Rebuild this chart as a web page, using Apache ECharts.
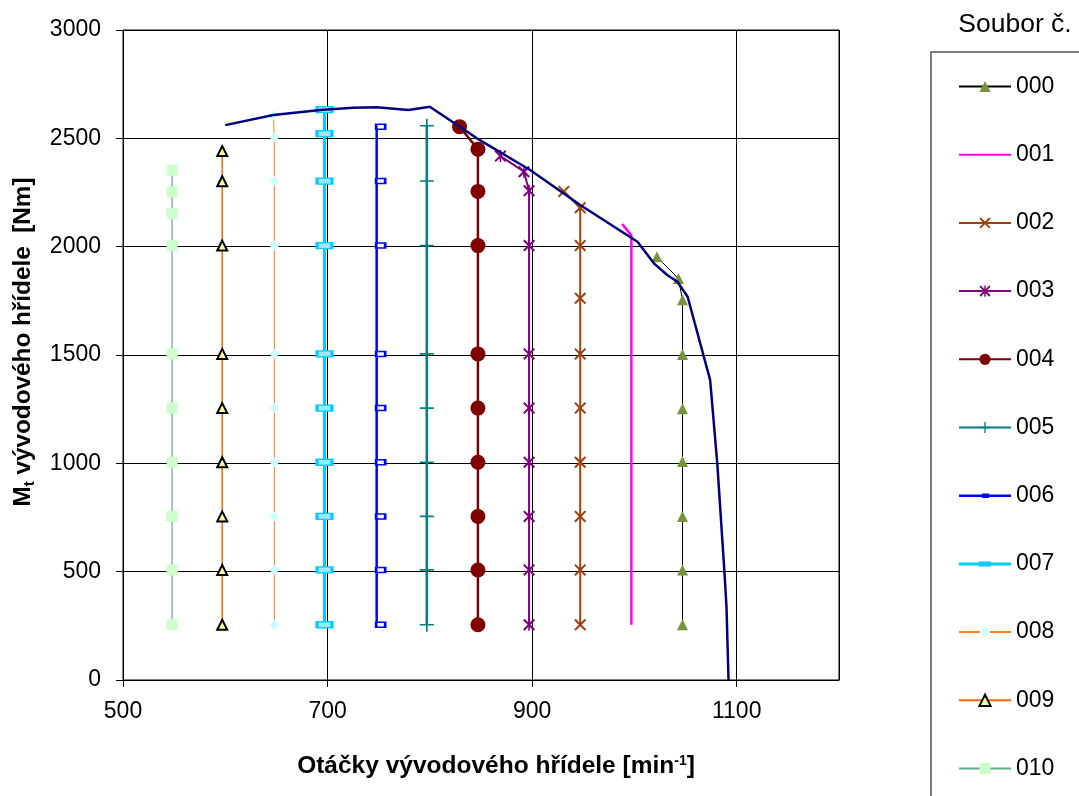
<!DOCTYPE html>
<html><head><meta charset="utf-8">
<script src="https://cdn.jsdelivr.net/npm/echarts@6/dist/echarts.min.js"></script>
<style>html,body{margin:0;padding:0;background:#fff}#c{width:1079px;height:796px}</style>
</head><body><div id="c"></div>
<script>
// ---- data (x: otáčky [min-1], y: Mt [Nm]) ----
const names = ['000','001','002','003','004','005','006','007','008','009','010'];
const x000 = [1047,1047,1047,1047,1047,1047,1047,1043,1022];
const y000 = [255,508,755,1008,1252,1502,1755,1853,1953];
const x001 = [997,997,988];
const y001 = [255,2052,2105];
const x002 = [947,947,947,947,947,947,947,947,947,931];
const y002 = [255,508,755,1005,1255,1505,1762,2005,2180,2255];
const x003 = [897,897,897,897,897,897,897,897,892,869];
const y003 = [255,508,755,1005,1255,1505,2005,2258,2346,2418];
const x004 = [847,847,847,847,847,847,847,847,847,829];
const y004 = [255,508,755,1005,1255,1505,2005,2255,2450,2554];
const x005 = [797,797,797,797,797,797,797,797,797];
const y005 = [255,508,755,1005,1255,1505,2005,2303,2558];
const x006 = [748,748,748,748,748,748,748,748,748];
const y006 = [255,508,755,1005,1255,1505,2005,2303,2553];
const x007 = [697,697,697,697,697,697,697,697,697,697];
const y007 = [255,508,755,1005,1255,1505,2005,2303,2522,2633];
const x008 = [648,648,648,648,648,648,648,648,648,647];
const y008 = [255,508,755,1005,1255,1505,2005,2303,2505,2607];
const x009 = [597,597,597,597,597,597,597,597,597];
const y009 = [255,508,755,1005,1255,1505,2005,2302,2441];
const x010 = [548,548,548,548,548,548,548,548,548,548];
const y010 = [255,508,755,1005,1255,1505,2005,2153,2253,2353];
// envelope (maximum torque curve)
const xEnv = [600,647,693,725,748,779,800,846,898,947,1003,1019,1032,1042,1052,1074,1081,1088,1090,1092];
const yEnv = [2561,2608,2631,2641,2643,2631,2646,2500,2354,2192,2023,1923,1869,1838,1769,1385,1000,498,338,0];
// axis ticks
const xTicks = [500,700,900,1100];
const yTicks = [0,500,1000,1500,2000,2500,3000];

const pair = (xs, ys) => xs.map((v, i) => [v, ys[i]]);
const FONT = 'Liberation Sans, Arial, sans-serif';

const symX = 'path://M0,1.2L1.2,0L5,3.8L8.8,0L10,1.2L6.2,5L10,8.8L8.8,10L5,6.2L1.2,10L0,8.8L3.8,5Z';
const symAst = 'path://M0,1.2L1.2,0L5,3.8L8.8,0L10,1.2L6.2,5L10,8.8L8.8,10L5,6.2L1.2,10L0,8.8L3.8,5ZM4.35,0L5.65,0L5.65,10L4.35,10Z';
const symPlus = 'path://M4.4,0L5.6,0L5.6,4.4L10,4.4L10,5.6L5.6,5.6L5.6,10L4.4,10L4.4,5.6L0,5.6L0,4.4L4.4,4.4Z';
// legend icons (52x14 box; tiny corner specks keep the box size)
const corners = 'M0,0L0.01,0L0,0.01ZM52,14L51.99,14L52,13.99Z';
const icon006 = 'path://' + corners + 'M0,5.8L52,5.8L52,8.2L0,8.2ZM23,4.8L30,4.8L30,9.2L23,9.2Z';
const icon007 = 'path://' + corners + 'M0,5.5L52,5.5L52,8.5L0,8.5ZM20,4.5L32,4.5L32,9.5L20,9.5Z';

function ser(name, xs, ys, lineColor, lineWidth, symbol, size, itemStyle, extra) {
  return Object.assign({
    name, type: 'line', data: pair(xs, ys),
    symbol, symbolSize: size, showSymbol: symbol !== 'none',
    lineStyle: { color: lineColor, width: lineWidth },
    itemStyle: itemStyle || { color: lineColor },
    emphasis: { disabled: true }, z: 3
  }, extra || {});
}

const series = [
  ser('000', x000, y000, '#000000', 1, 'triangle', 11, { color: '#77933C', borderWidth: 0 }),
  ser('001', x001, y001, '#FF00FF', 2.5, 'none', 0, { color: '#FF00FF' }),
  ser('002', x002, y002, '#A0400A', 2, symX, 12, { color: '#A0400A' }),
  ser('003', x003, y003, '#800080', 2, symAst, 12, { color: '#800080' }),
  ser('004', x004, y004, '#800000', 2.5, 'circle', 15, { color: '#800000' }),
  ser('005', x005, y005, '#008080', 2.5, symPlus, 14, { color: '#008080' }),
  ser('006', x006, y006, '#0000FF', 2.5, 'rect', [9, 5], { color: '#FFFFFF', borderColor: '#0000FF', borderWidth: 2 }, { symbolOffset: [4, 0] }),
  ser('007', x007, y007, '#00CCFF', 3, 'rect', [15, 6], { color: '#9BE8FF', borderColor: '#00CCFF', borderWidth: 2 }),
  ser('008', x008, y008, '#FF7A20', 1, 'diamond', 10, { color: '#CCFFFF', borderWidth: 0 }),
  ser('009', x009, y009, '#FF6600', 1.5, 'triangle', 10, { color: '#FFFF99', borderColor: '#000000', borderWidth: 2 }),
  ser('010', x010, y010, '#5FB088', 1.2, 'rect', 11, { color: '#CCFFCC', borderWidth: 0 }),
  {
    name: 'env', type: 'line', data: pair(xEnv, yEnv), symbol: 'none', showSymbol: false,
    lineStyle: { color: '#000080', width: 2.5 }, itemStyle: { color: '#000080' },
    emphasis: { disabled: true }, z: 5
  }
];

const legendData = names.map(n => {
  if (n === '001') return { name: n, itemStyle: { opacity: 0 } };
  if (n === '006') return { name: n, icon: icon006, itemStyle: { color: '#0000FF', borderWidth: 0 } };
  if (n === '007') return { name: n, icon: icon007, itemStyle: { color: '#00CCFF', borderWidth: 0 } };
  return { name: n };
});

const chart = echarts.init(document.getElementById('c'), null, { renderer: 'canvas' });
chart.setOption({
  animation: false,
  backgroundColor: '#ffffff',
  grid: { left: 123, right: 240, top: 30, bottom: 116, show: true, borderColor: '#000', borderWidth: 1, containLabel: false },
  xAxis: {
    type: 'value', min: xTicks[0], max: 1200, interval: xTicks[1] - xTicks[0],
    axisLine: { lineStyle: { color: '#000', width: 1 } },
    axisTick: { show: true, length: 7, lineStyle: { color: '#000' } },
    axisLabel: { fontFamily: FONT, fontSize: 23, color: '#000', margin: 20, showMaxLabel: false,
      formatter: v => xTicks.includes(v) ? String(v) : '' },
    splitLine: { show: true, lineStyle: { color: '#000', width: 1 } }
  },
  yAxis: {
    type: 'value', min: yTicks[0], max: yTicks[yTicks.length - 1], interval: yTicks[1] - yTicks[0],
    axisLine: { show: true, lineStyle: { color: '#000', width: 1 } },
    axisTick: { show: true, length: 7, lineStyle: { color: '#000' } },
    axisLabel: { fontFamily: FONT, fontSize: 23, color: '#000', margin: 22, formatter: v => String(v) },
    splitLine: { show: true, lineStyle: { color: '#000', width: 1 } }
  },
  legend: {
    data: legendData, orient: 'vertical', left: 958, top: 75, padding: 0,
    itemWidth: 52, itemHeight: 14, itemGap: 45.2,
    textStyle: { fontFamily: FONT, fontSize: 23, color: '#000' },
    selectedMode: false
  },
  graphic: [
    { type: 'rect', shape: { x: 931, y: 52, width: 200, height: 800 }, style: { fill: 'none', stroke: '#555', lineWidth: 1.5 }, z: 1 },
    { type: 'text', x: 1015, y: 25, style: { text: 'Soubor č.', font: '26.5px ' + FONT, fill: '#000', align: 'center', verticalAlign: 'middle' } },
    {
      type: 'text', x: 496, y: 766, style: {
        text: '{b|Otáčky vývodového hřídele [min}{p|-1}{b|]}', align: 'center', verticalAlign: 'middle',
        rich: {
          b: { fontFamily: FONT, fontSize: 24.5, fontWeight: 'bold', fill: '#000', lineHeight: 24, verticalAlign: 'middle' },
          p: { fontFamily: FONT, fontSize: 14, fontWeight: 'bold', fill: '#000', lineHeight: 14, verticalAlign: 'top' }
        }
      }
    },
    {
      type: 'text', x: 23, y: 342, rotation: Math.PI / 2, style: {
        text: '{b|M}{s|t}{b| vývodového hřídele  [Nm]}', align: 'center', verticalAlign: 'middle',
        rich: {
          b: { fontFamily: FONT, fontSize: 24.3, fontWeight: 'bold', fill: '#000', lineHeight: 28, verticalAlign: 'middle' },
          s: { fontFamily: FONT, fontSize: 15, fontWeight: 'bold', fill: '#000', lineHeight: 15, verticalAlign: 'bottom' }
        }
      }
    }
  ],
  series
});
</script></body></html>
